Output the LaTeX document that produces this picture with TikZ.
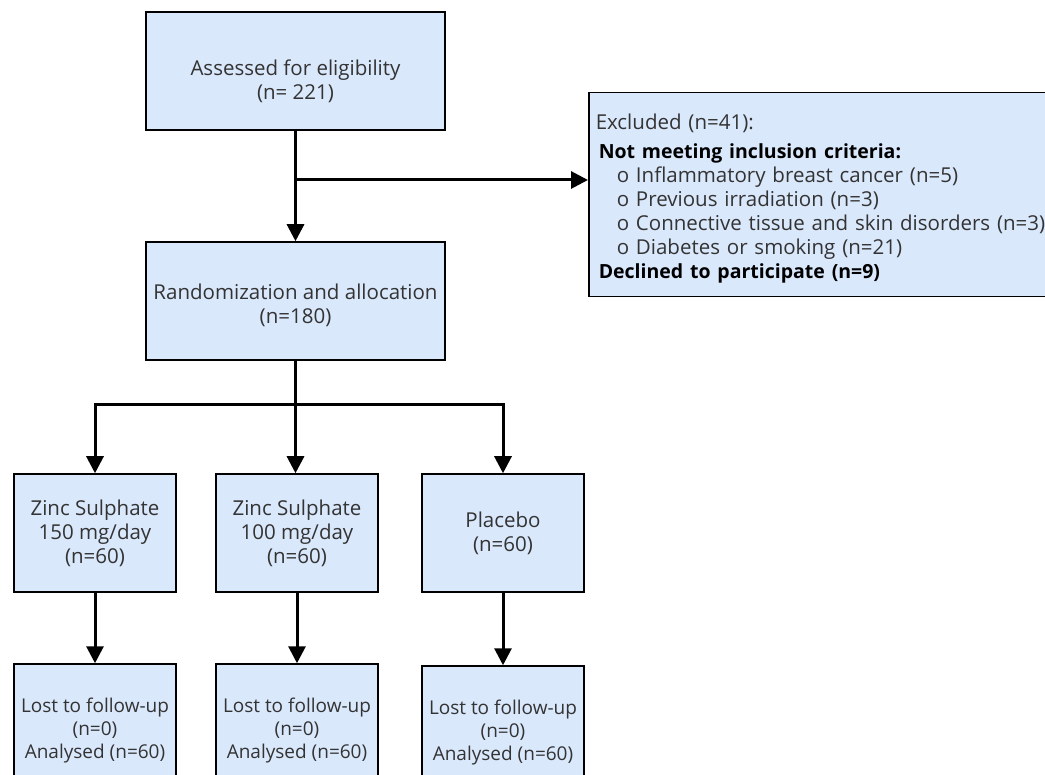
\documentclass[tikz,border=0pt]{standalone}
\usepackage{fontspec}
\setmainfont{Open Sans}
\usetikzlibrary{arrows.meta}
\definecolor{boxblue}{HTML}{DAE8FC}
\definecolor{txtgray}{HTML}{333333}
\newcommand{\boldline}[1]{{\color{black}\fontsize{19.5}{24}\selectfont\bfseries #1}}
\tikzset{
  flowbox/.style={draw=black, line width=1.5pt, fill=boxblue, align=center, text=txtgray,
    inner sep=2pt, font=\fontsize{20.5}{24}\selectfont},
  lostbox/.style={flowbox, minimum width=162pt, minimum height=134pt, font=\fontsize{19}{23}\selectfont},
  flowarrow/.style={line width=3pt, -{Triangle[width=17pt,length=17pt]}},
  flowline/.style={line width=3pt}
}
\begin{document}
\begin{tikzpicture}[x=1pt,y=-1pt]
	\useasboundingbox (0,0) rectangle (1045,775);
	
	% Draw the main boxes
	\node[flowbox, minimum width=299pt, minimum height=118pt] (assessed) at (295.5,71) {\rule{0pt}{36pt}Assessed for eligibility\\(n= 221)};
	\node[flowbox, minimum width=299pt, minimum height=118pt] (random) at (295.5,301) {\rule{0pt}{24pt}Randomization and allocation\\(n=180)};
	\node[flowbox, anchor=north west, text width=470pt, align=left, minimum height=204pt, inner xsep=7pt] (excluded) at (588,92)
		{\rule{0pt}{24pt}Excluded (n=41):\\[5pt]
		\hspace*{3pt}\boldline{Not meeting inclusion criteria:}\\
		\hspace*{21pt}o Inflammatory breast cancer (n=5)\\
		\hspace*{21pt}o Previous irradiation (n=3)\\
		\hspace*{21pt}o Connective tissue and skin disorders (n=3)\\
		\hspace*{21pt}o Diabetes or smoking (n=21)\\
		\hspace*{3pt}\boldline{Declined to participate (n=9)}};
	
	% Draw the three arms
	\node[flowbox, minimum width=162pt, minimum height=118pt] (zinc150) at (95,533) {Zinc Sulphate\\150 mg/day\\(n=60)};
	\node[flowbox, minimum width=162pt, minimum height=118pt] (zinc100) at (297,533) {Zinc Sulphate\\100 mg/day\\(n=60)};
	\node[flowbox, minimum width=162pt, minimum height=118pt] (placebo) at (503,533) {Placebo\\(n=60)};
	
	% Draw the follow-up boxes (cut at the bottom edge)
	\node[lostbox] (lost150) at (95,731) {Lost to follow-up\\(n=0)\\Analysed (n=60)};
	\node[lostbox] (lost100) at (297,731) {Lost to follow-up\\(n=0)\\Analysed (n=60)};
	\node[lostbox] (lostplac) at (503,733) {Lost to follow-up\\(n=0)\\Analysed (n=60)};
	
	% Branch points
	\coordinate (exclsplit) at (295.5,180);
	\coordinate (armsplit) at (295.5,405);
	
	% Draw the arrows
	\draw[flowarrow] (assessed) -- (random);
	\draw[flowarrow] (exclsplit) -- (exclsplit -| excluded.west);
	\draw[flowline] (random) -- (armsplit);
	\draw[flowarrow] (armsplit) -| (zinc150.north);
	\draw[flowarrow] (armsplit) -- (armsplit |- zinc100.north);
	\draw[flowarrow] (armsplit) -| (placebo.north);
	\draw[flowarrow] (zinc150) -- (lost150);
	\draw[flowarrow] (zinc100) -- (lost100);
	\draw[flowarrow] (placebo) -- (lostplac);
\end{tikzpicture}
\end{document}
